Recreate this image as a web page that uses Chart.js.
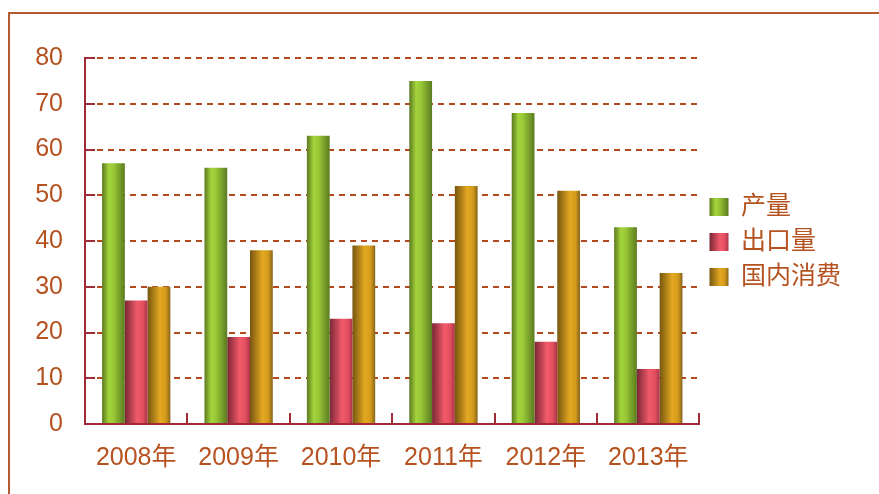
<!DOCTYPE html>
<html><head><meta charset="utf-8">
<script src="https://cdn.jsdelivr.net/npm/chart.js@4"></script>
<style>
html,body{margin:0;padding:0;background:#fff;overflow:hidden;}
#wrap{position:relative;width:879px;height:494px;}
#frame{position:absolute;left:8px;top:12px;width:900px;height:520px;border-top:2px solid #b65a32;border-left:2px solid #b65a32;pointer-events:none;}
</style></head>
<body><div id="wrap"><canvas id="c" width="879" height="494"></canvas><div id="frame"></div></div>
<script>
const years = ['2008年','2009年','2010年','2011年','2012年','2013年'];
const seriesNames = ['产量','出口量','国内消费'];
const production = [57, 56, 63, 75, 68, 43];
const exportVol = [27, 19, 23, 22, 18, 12];
const domestic = [30, 38, 39, 52, 51, 33];
const yTicks = [0,10,20,30,40,50,60,70,80];

const TEXT = '#b5521f';
const AXIS = '#a02a36';
const GRID = '#b24a1e';
const FONT = "'Liberation Sans', 'Noto Sans CJK SC', sans-serif";
const CAT_PCT = 0.667;

const gradStops = [
  [[0,'#5b7a1f'],[0.3,'#a4d43c'],[0.5,'#98c936'],[1,'#5c7b20']],
  [[0,'#7a2736'],[0.55,'#f35a6a'],[0.8,'#e24f60'],[1,'#a83445']],
  [[0,'#76560f'],[0.55,'#e4a822'],[0.8,'#d49a1c'],[1,'#86641a']]
];
const flat = ['#8fbf34','#d64a5a','#c89020'];

function makeGrad(ctx, stops, l, r){
  const g = ctx.createLinearGradient(l,0,r,0);
  stops.forEach(s=>g.addColorStop(s[0],s[1]));
  return g;
}

function barBg(context){
  const chart = context.chart;
  const di = context.datasetIndex;
  if (context.type !== 'data' || !chart.chartArea || !chart.scales.x) return flat[di];
  const xs = chart.scales.x;
  const n = years.length;
  const cw = xs.width / n;
  const gw = cw * CAT_PCT;
  const bw = gw / 3;
  const center = xs.getPixelForValue(context.dataIndex);
  const left = center - gw/2 + bw*di;
  return makeGrad(chart.ctx, gradStops[di], left, left + bw);
}

const decor = {
  id: 'decor',
  afterLayout(chart){
    const lg = chart.legend;
    if (lg && chart.chartArea){
      lg.bottom = chart.chartArea.bottom + 2;
      lg.height = lg.bottom - lg.top;
    }
  },
  beforeDraw(chart){
    const lg = chart.legend;
    if (lg && lg.legendItems && lg.legendHitBoxes){
      lg.legendItems.forEach((it,i)=>{
        const hb = lg.legendHitBoxes[i];
        if (hb) it.fillStyle = makeGrad(chart.ctx, gradStops[i], hb.left, hb.left + 19);
      });
    }
  },
  afterDatasetsDraw(chart){
    const {ctx, chartArea:a, scales:{x:xs, y:ys}} = chart;
    ctx.save();
    ctx.strokeStyle = AXIS;
    ctx.lineWidth = 2;
    ctx.beginPath();
    yTicks.forEach(v=>{
      const y = Math.round(ys.getPixelForValue(v));
      ctx.moveTo(a.left, y); ctx.lineTo(a.left + 10, y);
    });
    const n = years.length;
    for (let i=1;i<=n;i++){
      const x = Math.round(a.left + i*(a.right - a.left)/n);
      ctx.moveTo(x, a.bottom); ctx.lineTo(x, a.bottom - 11);
    }
    ctx.stroke();
    ctx.restore();
  }
};

new Chart(document.getElementById('c'), {
  type: 'bar',
  data: {
    labels: years,
    datasets: [
      {label: seriesNames[0], data: production, backgroundColor: barBg},
      {label: seriesNames[1], data: exportVol, backgroundColor: barBg},
      {label: seriesNames[2], data: domestic, backgroundColor: barBg}
    ]
  },
  options: {
    responsive: false,
    animation: false,
    devicePixelRatio: 1,
    layout: {padding: {top: 58, right: 28, left: 0, bottom: 0}},
    datasets: {bar: {categoryPercentage: CAT_PCT, barPercentage: 1, borderWidth: 0}},
    plugins: {
      tooltip: {enabled: false},
      legend: {
        position: 'right',
        align: 'center',
        labels: {
          boxWidth: 19, boxHeight: 18, padding: 10,
          color: TEXT,
          font: {family: FONT, size: 25}
        }
      }
    },
    scales: {
      x: {
        grid: {display: false, drawTicks: false},
        border: {display: true, color: AXIS, width: 2},
        ticks: {color: TEXT, font: {family: FONT, size: 25}, padding: 19, maxRotation: 0},
        afterFit(s){ s.height = 70; }
      },
      y: {
        min: 0, max: 80,
        afterBuildTicks(s){ s.ticks = yTicks.map(v=>({value:v})); },
        grid: {
          drawTicks: false,
          color: c => (c.tick && c.tick.value === 0) ? 'rgba(0,0,0,0)' : GRID,
          lineWidth: 2
        },
        border: {display: true, color: AXIS, width: 2, dash: [6,5]},
        ticks: {color: TEXT, font: {family: FONT, size: 25}, padding: 22},
        afterFit(s){ s.width = 85; }
      }
    }
  },
  plugins: [decor]
});
</script>
</body></html>
